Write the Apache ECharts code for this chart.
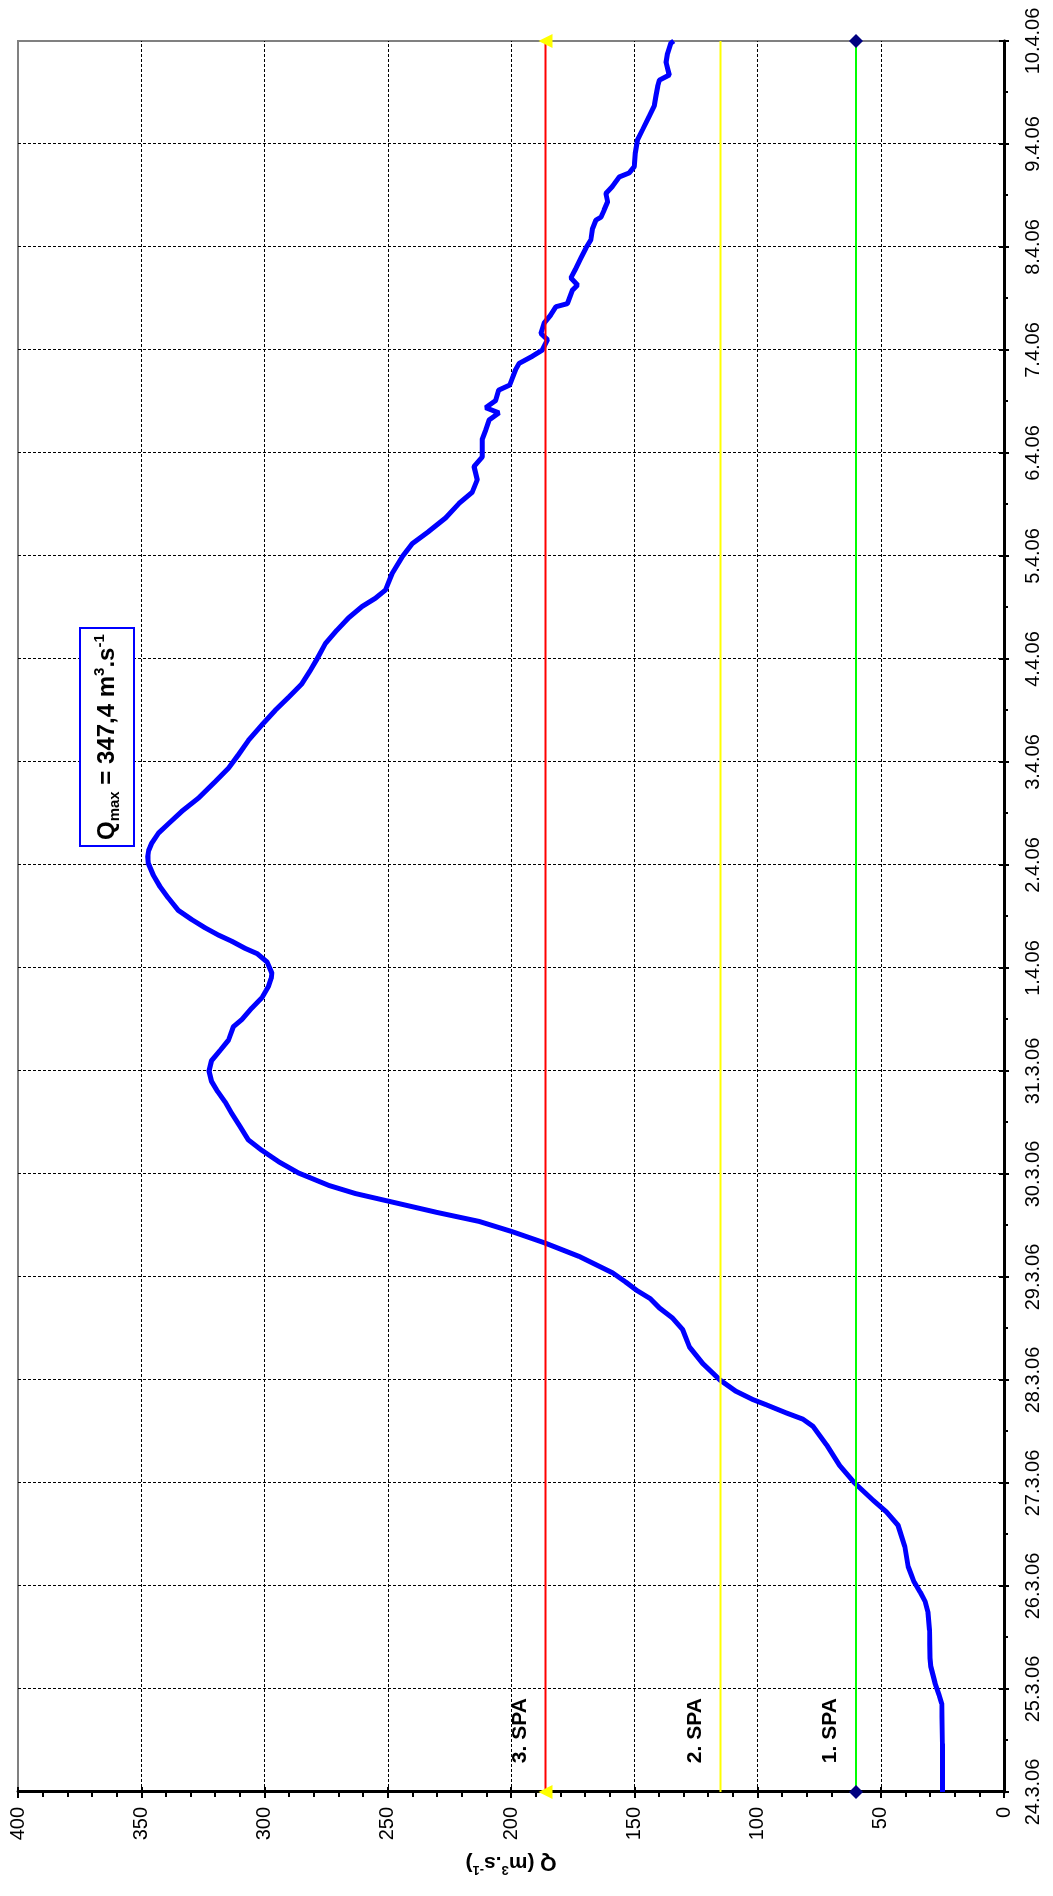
<!DOCTYPE html>
<html>
<head>
<meta charset="utf-8">
<title>Q 24.3.06 - 10.4.06</title>
<script src="https://cdn.jsdelivr.net/npm/echarts@6/dist/echarts.min.js"></script>
<style>
  html, body {
    margin: 0;
    padding: 0;
    width: 1053px;
    height: 1896px;
    overflow: hidden;
    background: #fff;
  }
  /* the chart is laid out landscape and turned a quarter turn left */
  #chart {
    position: absolute;
    left: 0;
    top: 0;
    width: 1896px;
    height: 1053px;
    transform-origin: 0 0;
    transform: translate(0, 1896px) rotate(-90deg);
  }
</style>
</head>
<body>
<div id="chart"></div>
<script>
const FONT = '"Liberation Sans", Arial, sans-serif';

// date ticks, one per day
const dayLabels = [
  "24.3.06", "25.3.06", "26.3.06", "27.3.06", "28.3.06", "29.3.06",
  "30.3.06", "31.3.06", "1.4.06", "2.4.06", "3.4.06", "4.4.06",
  "5.4.06", "6.4.06", "7.4.06", "8.4.06", "9.4.06", "10.4.06",
];

// time of each reading, in days after 24.3.06 0:00
const flowDays = [
  0, 0.47, 0.86, 0.94, 1.06, 1.22, 1.3, 1.57, 1.74, 1.85,
  1.94, 2.04, 2.12, 2.19, 2.38, 2.59, 2.72, 2.83, 3.0, 3.17,
  3.37, 3.55, 3.62, 3.68, 3.76, 3.81, 3.89, 4.0, 4.16, 4.32,
  4.49, 4.6, 4.7, 4.79, 4.87, 4.95, 5.04, 5.2, 5.33, 5.44,
  5.54, 5.63, 5.74, 5.81, 5.89, 6.01, 6.12, 6.23, 6.33, 6.46,
  6.59, 6.7, 6.8, 6.9, 7.0, 7.1, 7.2, 7.3, 7.43, 7.5,
  7.61, 7.71, 7.82, 7.9, 7.95, 8.06, 8.14, 8.19, 8.26, 8.32,
  8.39, 8.47, 8.56, 8.68, 8.79, 8.9, 9.02, 9.08, 9.14, 9.21,
  9.31, 9.4, 9.52, 9.65, 9.81, 9.94, 10.07, 10.21, 10.36, 10.5,
  10.63, 10.76, 10.89, 11.0, 11.15, 11.28, 11.4, 11.51, 11.59, 11.67,
  11.83, 11.99, 12.12, 12.24, 12.37, 12.51, 12.62, 12.74, 12.87, 12.96,
  13.13, 13.22, 13.32, 13.39, 13.44, 13.51, 13.61, 13.66, 13.81, 13.87,
  13.94, 14.0, 14.1, 14.16, 14.26, 14.34, 14.42, 14.45, 14.58, 14.63,
  14.7, 14.79, 14.89, 14.99, 15.07, 15.18, 15.26, 15.29, 15.36, 15.44,
  15.52, 15.59, 15.68, 15.72, 15.78, 15.91, 16.04, 16.14, 16.27, 16.37,
  16.47, 16.56, 16.62, 16.67, 16.79, 16.88, 16.98, 17.0,
];

// discharge Q (m3/s)
const flowQ = [
  25, 25, 25.3, 26.3, 28, 29.7, 30, 30.2, 30.8, 32,
  34, 36.5, 37.8, 38.9, 40.2, 43, 47.7, 53, 60.6, 66.7,
  72, 77.5, 81.6, 88.3, 96.5, 101.9, 108.7, 115.2, 122.2, 127.6,
  130.4, 134.4, 139.8, 143.5, 149, 153.4, 158.8, 172.4, 186.2, 199.5,
  213, 230.6, 250.4, 263.1, 274, 286.2, 294.3, 301.1, 306.5, 309.9,
  313.3, 316, 319, 321.5, 322.5, 321.5, 318, 314.6, 312.6, 309.2,
  305.2, 301.1, 298.4, 297.3, 297, 299, 303, 307.8, 313.3, 318.7,
  324.1, 329.5, 335, 339, 342.4, 345.1, 347.2, 347.4, 347, 345.8,
  343, 339, 333.6, 326.8, 320, 314.6, 310.6, 306.5, 301.1, 295.7,
  290.2, 284.8, 281.4, 278.7, 275.3, 270.6, 265.9, 260.4, 255, 250.9,
  248.2, 244.2, 240.1, 233.3, 226.5, 221.1, 215.7, 213.7, 215, 211.7,
  211.7, 210.3, 208.9, 204.9, 210.3, 206.2, 205, 200.5, 198.1, 196.7,
  191.3, 187.3, 185.2, 187.9, 186.6, 183.9, 181.8, 177.1, 175.1, 173,
  175.7, 173.7, 171.7, 169.6, 167.6, 166.9, 165.6, 163.5, 162.2, 160.8,
  161.5, 158.8, 156.1, 152, 150, 149.6, 148.7, 146.6, 143.9, 141.9,
  141.2, 140.5, 139.8, 135.8, 137.1, 136.5, 135.1, 134,
];

// flood activity levels
const spaNames = ["1. SPA", "2. SPA", "3. SPA"];
const spaLevels = [60, 115, 186];
const qMax = 347.4;

const lastDay = dayLabels.length - 1;
const flowData = flowDays.map((d, i) => [d, flowQ[i]]);
const spaLine = (q) => [[0, q], [lastDay, q]];

const chart = echarts.init(document.getElementById("chart"));

const dayAxis = {
  type: "value",
  min: 0,
  max: lastDay,
  interval: 1,
};
const qAxis = {
  type: "value",
  min: 0,
  max: 400,
  interval: 50,
};

const options = {
  animation: false,
  backgroundColor: "#fff",
  grid: {
    left: 104,
    right: 41,
    top: 18,
    bottom: 49,
    show: true,
    borderColor: "#808080",
    borderWidth: 2,
  },
  title: {
    text: "{q|Q}{sub|max}{q| = " + qMax.toFixed(1).replace(".", ",") + " m}{sup|3}{q|.s}{sup|-1}",
    left: 1050,
    top: 80,
    padding: [12, 6, 12, 6],
    borderColor: "#0000FF",
    borderWidth: 2,
    backgroundColor: "#fff",
    textStyle: {
      rich: {
        q: { fontFamily: FONT, fontSize: 24, fontWeight: "bold", color: "#000", lineHeight: 30 },
        sub: { fontFamily: FONT, fontSize: 15, fontWeight: "bold", color: "#000", lineHeight: 15, verticalAlign: "bottom" },
        sup: { fontFamily: FONT, fontSize: 15, fontWeight: "bold", color: "#000", lineHeight: 15, verticalAlign: "top" },
      },
    },
  },
  xAxis: [
    {
      ...dayAxis,
      position: "bottom",
      axisLine: { lineStyle: { color: "#000", width: 3 } },
      axisTick: { length: 5, lineStyle: { color: "#000", width: 2 } },
      minorTick: { show: true, splitNumber: 2, length: 4, lineStyle: { color: "#000", width: 2 } },
      axisLabel: {
        margin: 19,
        fontFamily: FONT,
        fontSize: 20,
        color: "#000",
        formatter: (v) => dayLabels[Math.round(v)],
      },
      splitLine: {
        show: true,
        showMinLine: false,
        showMaxLine: false,
        lineStyle: { color: "#000", width: 1, type: [3, 2] },
      },
    },
    {
      // inner half of the main ticks
      ...dayAxis,
      position: "bottom",
      axisLine: { show: false },
      axisTick: { inside: true, length: 5, lineStyle: { color: "#000", width: 2 } },
      axisLabel: { show: false },
      splitLine: { show: false },
    },
  ],
  yAxis: [
    {
      ...qAxis,
      position: "left",
      name: "{a|Q (m}{b|3}{a|.s}{b|-1}{a|)}",
      nameLocation: "middle",
      nameRotate: 90,
      nameGap: 58,
      nameTextStyle: {
        rich: {
          a: { fontFamily: FONT, fontSize: 21, fontWeight: "bold", color: "#000", lineHeight: 26 },
          b: { fontFamily: FONT, fontSize: 13, fontWeight: "bold", color: "#000", lineHeight: 13, verticalAlign: "top" },
        },
      },
      axisLine: { lineStyle: { color: "#000", width: 3 } },
      axisTick: { length: 6, lineStyle: { color: "#000", width: 2 } },
      minorTick: { show: true, splitNumber: 5, length: 5, lineStyle: { color: "#000", width: 2 } },
      axisLabel: { margin: 15, fontFamily: FONT, fontSize: 20, color: "#000" },
      splitLine: {
        show: true,
        showMinLine: false,
        showMaxLine: false,
        lineStyle: { color: "#000", width: 1, type: [3, 2] },
      },
    },
    {
      ...qAxis,
      position: "left",
      axisLine: { show: false },
      axisTick: { inside: true, length: 5, lineStyle: { color: "#000", width: 2 } },
      axisLabel: { show: false },
      splitLine: { show: false },
    },
  ],
  series: [
    {
      name: "Q",
      type: "line",
      data: flowData,
      showSymbol: false,
      lineStyle: { color: "#0000FF", width: 5 },
      z: 2,
    },
    {
      name: spaNames[0],
      type: "line",
      data: spaLine(spaLevels[0]),
      symbol: "diamond",
      symbolSize: 14,
      itemStyle: { color: "#000080" },
      lineStyle: { color: "#00FF00", width: 2 },
      clip: false,
      z: 3,
    },
    {
      name: spaNames[1],
      type: "line",
      data: spaLine(spaLevels[1]),
      symbol: "none",
      lineStyle: { color: "#FFFF00", width: 2 },
      clip: false,
      z: 3,
    },
    {
      name: spaNames[2],
      type: "line",
      data: spaLine(spaLevels[2]),
      symbol: "triangle",
      symbolSize: 14,
      itemStyle: { color: "#FFFF00" },
      lineStyle: { color: "#FF0000", width: 2 },
      clip: false,
      z: 3,
    },
  ],
};

chart.setOption(options);

// level names sit just above each line, a little after the start
const labelDay = 0.28;
chart.setOption({
  graphic: spaLevels.map((q, i) => {
    const p = chart.convertToPixel({ seriesIndex: 0 }, [labelDay, q]);
    return {
      type: "text",
      x: p[0],
      y: p[1] - 15,
      z: 10,
      style: {
        text: spaNames[i],
        font: "bold 21px " + FONT,
        fill: "#000",
        align: "left",
        verticalAlign: "bottom",
      },
    };
  }),
});
</script>
</body>
</html>
